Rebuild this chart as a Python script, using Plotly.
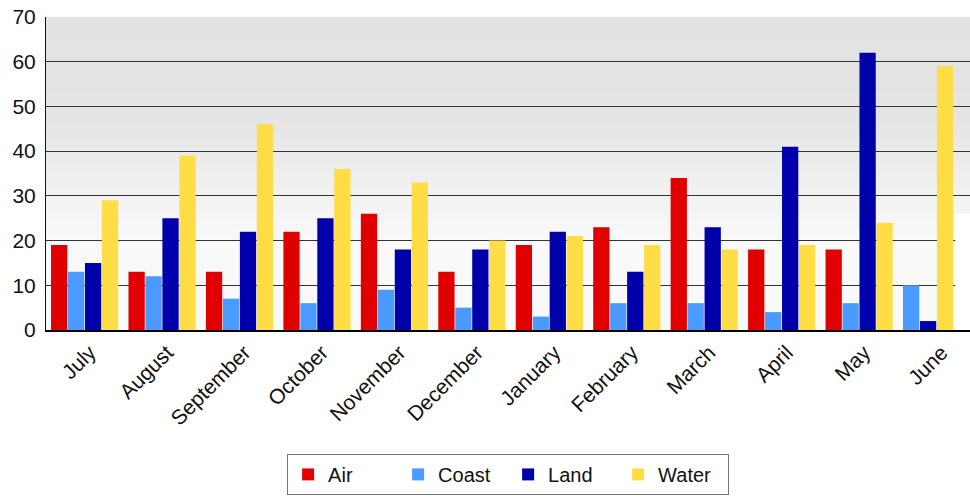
import base64
import struct
import zlib

import plotly.graph_objects as go

months = ["July", "August", "September", "October", "November", "December",
          "January", "February", "March", "April", "May", "June"]
air = [19, 13, 13, 22, 26, 13, 19, 23, 34, 18, 18, None]
coast = [13, 12, 7, 6, 9, 5, 3, 6, 6, 4, 6, 10]
land = [15, 25, 22, 25, 18, 18, 22, 13, 23, 41, 62, 2]
water = [29, 39, 46, 36, 33, 20, 21, 19, 18, 19, 24, 59]

series = [
    ("Air", air, "#e00000"),
    ("Coast", coast, "#4a9aff"),
    ("Land", land, "#0000aa"),
    ("Water", water, "#ffdd44"),
]

# Bar slots: each present value takes the next free slot in its month,
# so a missing value does not leave a hole in the group.
group_start = -0.435
slot = 0.219
bar_w = 0.21

fig = go.Figure()
filled = [0] * len(months)
for name, vals, color in series:
    offsets = []
    for j, v in enumerate(vals):
        offsets.append(group_start + filled[j] * slot)
        if v is not None:
            filled[j] += 1
    fig.add_trace(go.Bar(
        x=months, y=vals, name=name,
        offset=offsets, width=bar_w,
        marker=dict(color=color, line=dict(width=0)),
    ))


def gradient_png(height):
    # 1-pixel-wide greyscale strip, dark at the top fading to near white
    def grey(frac_from_top):
        v = 70 * (1 - frac_from_top)
        if v >= 48:
            return 226 + (70 - v) / 22 * 2
        if v >= 20:
            return 228 + (48 - v) / 28 * 21
        return 249
    raw = b"".join(b"\x00" + bytes([int(round(grey(i / (height - 1))))])
                   for i in range(height))

    def chunk(tag, data):
        c = struct.pack(">I", len(data)) + tag + data
        return c + struct.pack(">I", zlib.crc32(tag + data) & 0xFFFFFFFF)

    png = b"\x89PNG\r\n\x1a\n"
    png += chunk(b"IHDR", struct.pack(">IIBBBBB", 1, height, 8, 0, 0, 0, 0))
    png += chunk(b"IDAT", zlib.compress(raw))
    png += chunk(b"IEND", b"")
    return "data:image/png;base64," + base64.b64encode(png).decode()


fig.update_layout(
    width=970, height=501,
    margin=dict(l=46, r=0, t=17, b=171),
    paper_bgcolor="white", plot_bgcolor="white",
    barmode="overlay",
    font=dict(family="Liberation Sans, Arial, sans-serif", color="#111", size=20),
    images=[dict(source=gradient_png(313), xref="paper", yref="paper",
                 x=0, y=1, sizex=1, sizey=1, xanchor="left", yanchor="top",
                 sizing="stretch", layer="below")],
    shapes=[dict(type="rect", xref="paper", yref="y", x0=0.984, x1=1.0,
                 y0=0, y1=26, fillcolor="white", line=dict(width=0),
                 layer="above")],
    showlegend=True,
    legend=dict(
        orientation="h", xref="container", yref="container",
        x=0.296, xanchor="left", y=0.094, yanchor="top",
        bordercolor="#777", borderwidth=1, bgcolor="white",
        font=dict(size=20), entrywidth=65, traceorder="normal",
    ),
)
fig.update_yaxes(
    range=[0, 70], dtick=10, showgrid=True, gridcolor="#333", gridwidth=1,
    showline=True, linecolor="#111", linewidth=1, ticks="",
    tickfont=dict(size=21), zeroline=False, ticklabelstandoff=5,
)
fig.update_xaxes(
    range=[-0.5, 11.43],
    showline=True, linecolor="#000", linewidth=2, tickangle=-45, ticks="",
    tickfont=dict(size=21), ticklabelshift=5,
)

fig.write_html("out.html")
